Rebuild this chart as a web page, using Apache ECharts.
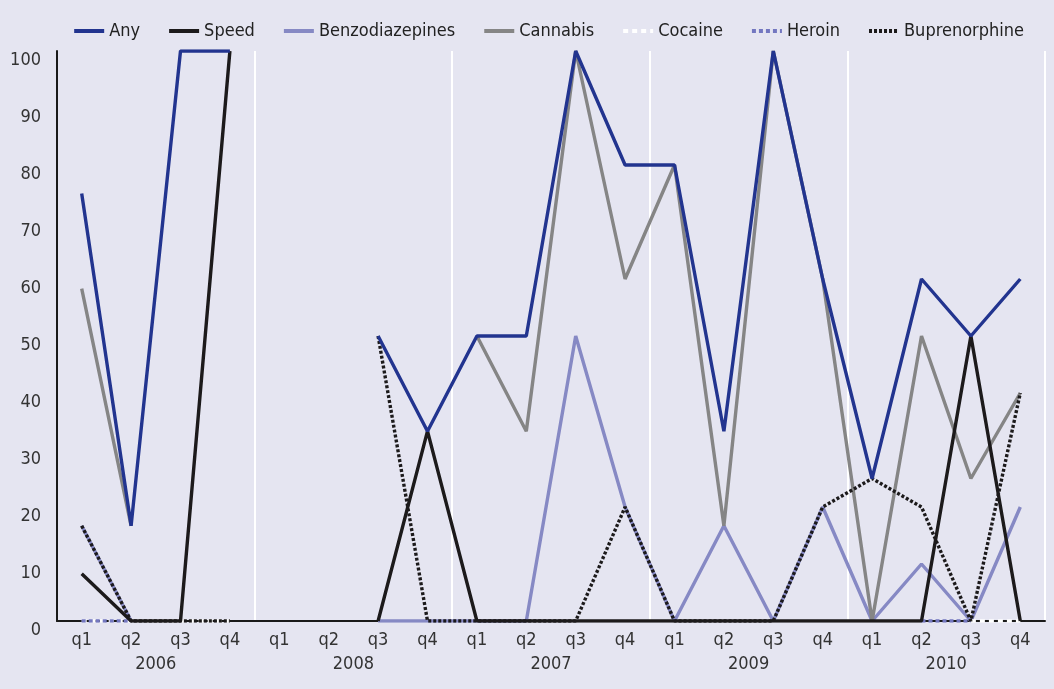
<!DOCTYPE html>
<html>
<head>
<meta charset="utf-8">
<script src="https://cdn.jsdelivr.net/npm/echarts@6/dist/echarts.min.js"></script>
<style>
html,body{margin:0;padding:0;background:#e5e5f1;}
#c{width:1054px;height:689px;}
</style>
</head>
<body>
<div id="c"></div>
<script>
const quarters = ['q1','q2','q3','q4','q1','q2','q3','q4','q1','q2','q3','q4','q1','q2','q3','q4','q1','q2','q3','q4'];
const years = ['2006','2008','2007','2009','2010'];
const yTicks = [0,10,20,30,40,50,60,70,80,90,100];

const anyVals      = [75, 16.7, 100, 100,  null, null, 50, 33.3,  50, 50, 100, 80,  80, 33.3, 100, 60,  25, 60, 50, 60];
const speedVals    = [8.3, 0, 0, 100,      null, null, 0, 33.3,   0, 0, 0, 0,      0, 0, 0, 0,        0, 0, 50, 0];
const benzoVals    = [16.7, 0, null, null, null, null, 0, 0,      0, 0, 50, 20,    0, 16.7, 0, 20,    0, 10, 0, 20];
const cannabisVals = [58.3, 16.7, null, null, null, null, null, null, 50, 33.3, 100, 60, 80, 16.7, 100, 60, 0, 50, 25, 40];
const cocaineVals  = [0, 0, 0, 0,          null, null, null, null, null, null, null, null, null, null, null, null, null, null, 0, 0];
const heroinVals   = [0, 0, null, null,    null, null, null, null, null, null, null, null, null, null, null, null, null, 0, 0, null];
const bupVals      = [16.7, 0, 0, 0,       null, null, 50, 0,     0, 0, 0, 20,     0, 0, 0, 20,       25, 20, 0, 40];

const FONT = "'DejaVu Sans Condensed','Liberation Sans Narrow',sans-serif";
const chart = echarts.init(document.getElementById('c'));

function mk(name, data, color, type, z) {
  return {
    name: name, type: 'line', data: data, xAxisIndex: 0, yAxisIndex: 0,
    symbol: 'none', showSymbol: false, connectNulls: false, z: z,
    lineStyle: {color: color, width: 3.4, type: type},
    itemStyle: {color: color},
    emphasis: {disabled: true}
  };
}

chart.setOption({
  backgroundColor: '#e5e5f1',
  animation: false,
  legend: {
    top: 17, right: 25, itemWidth: 30, itemHeight: 12, itemGap: 27,
    itemStyle: {opacity: 0},
    lineStyle: {width: 4},
    textStyle: {fontFamily: FONT, fontSize: 18, color: '#222'},
    data: ['Any','Speed','Benzodiazepines','Cannabis','Cocaine','Heroin','Buprenorphine']
  },
  grid: {left: 57, right: 9, top: 51, bottom: 68, containLabel: false},
  xAxis: [
    {
      type: 'category', data: quarters, position: 'bottom', boundaryGap: true,
      axisLine: {show: true, lineStyle: {color: '#1a1a1a', width: 2}},
      axisTick: {show: false},
      splitLine: {show: false},
      axisLabel: {fontFamily: FONT, fontSize: 18, color: '#333', margin: 10, interval: 0},
      z: 1
    },
    {
      type: 'category', data: years, position: 'bottom', boundaryGap: true, offset: 24,
      axisLine: {show: false}, axisTick: {show: false},
      splitLine: {show: true, interval: 0, lineStyle: {color: '#ffffff', width: 2}},
      axisLabel: {fontFamily: FONT, fontSize: 18, color: '#333', margin: 10, interval: 0}
    }
  ],
  yAxis: {
    type: 'value', min: 0, max: 100, interval: 10,
    axisLine: {show: true, lineStyle: {color: '#1a1a1a', width: 2}},
    axisTick: {show: false},
    splitLine: {show: false},
    axisLabel: {fontFamily: FONT, fontSize: 18, color: '#333', margin: 16, verticalAlign: 'top',
      formatter: function (v) { return yTicks.indexOf(v) >= 0 ? String(v) : ''; }}
  },
  series: [
    mk('Any', anyVals, '#22348f', 'solid', 10),
    mk('Speed', speedVals, '#1c1a1b', 'solid', 9),
    mk('Benzodiazepines', benzoVals, '#8689c4', 'solid', 3),
    mk('Cannabis', cannabisVals, '#858585', 'solid', 4),
    mk('Cocaine', cocaineVals, '#ffffff', [5, 4], 5),
    mk('Heroin', heroinVals, '#7377c0', [4, 3], 6),
    mk('Buprenorphine', bupVals, '#1c1a1b', [3, 2], 7)
  ]
});
</script>
</body>
</html>
